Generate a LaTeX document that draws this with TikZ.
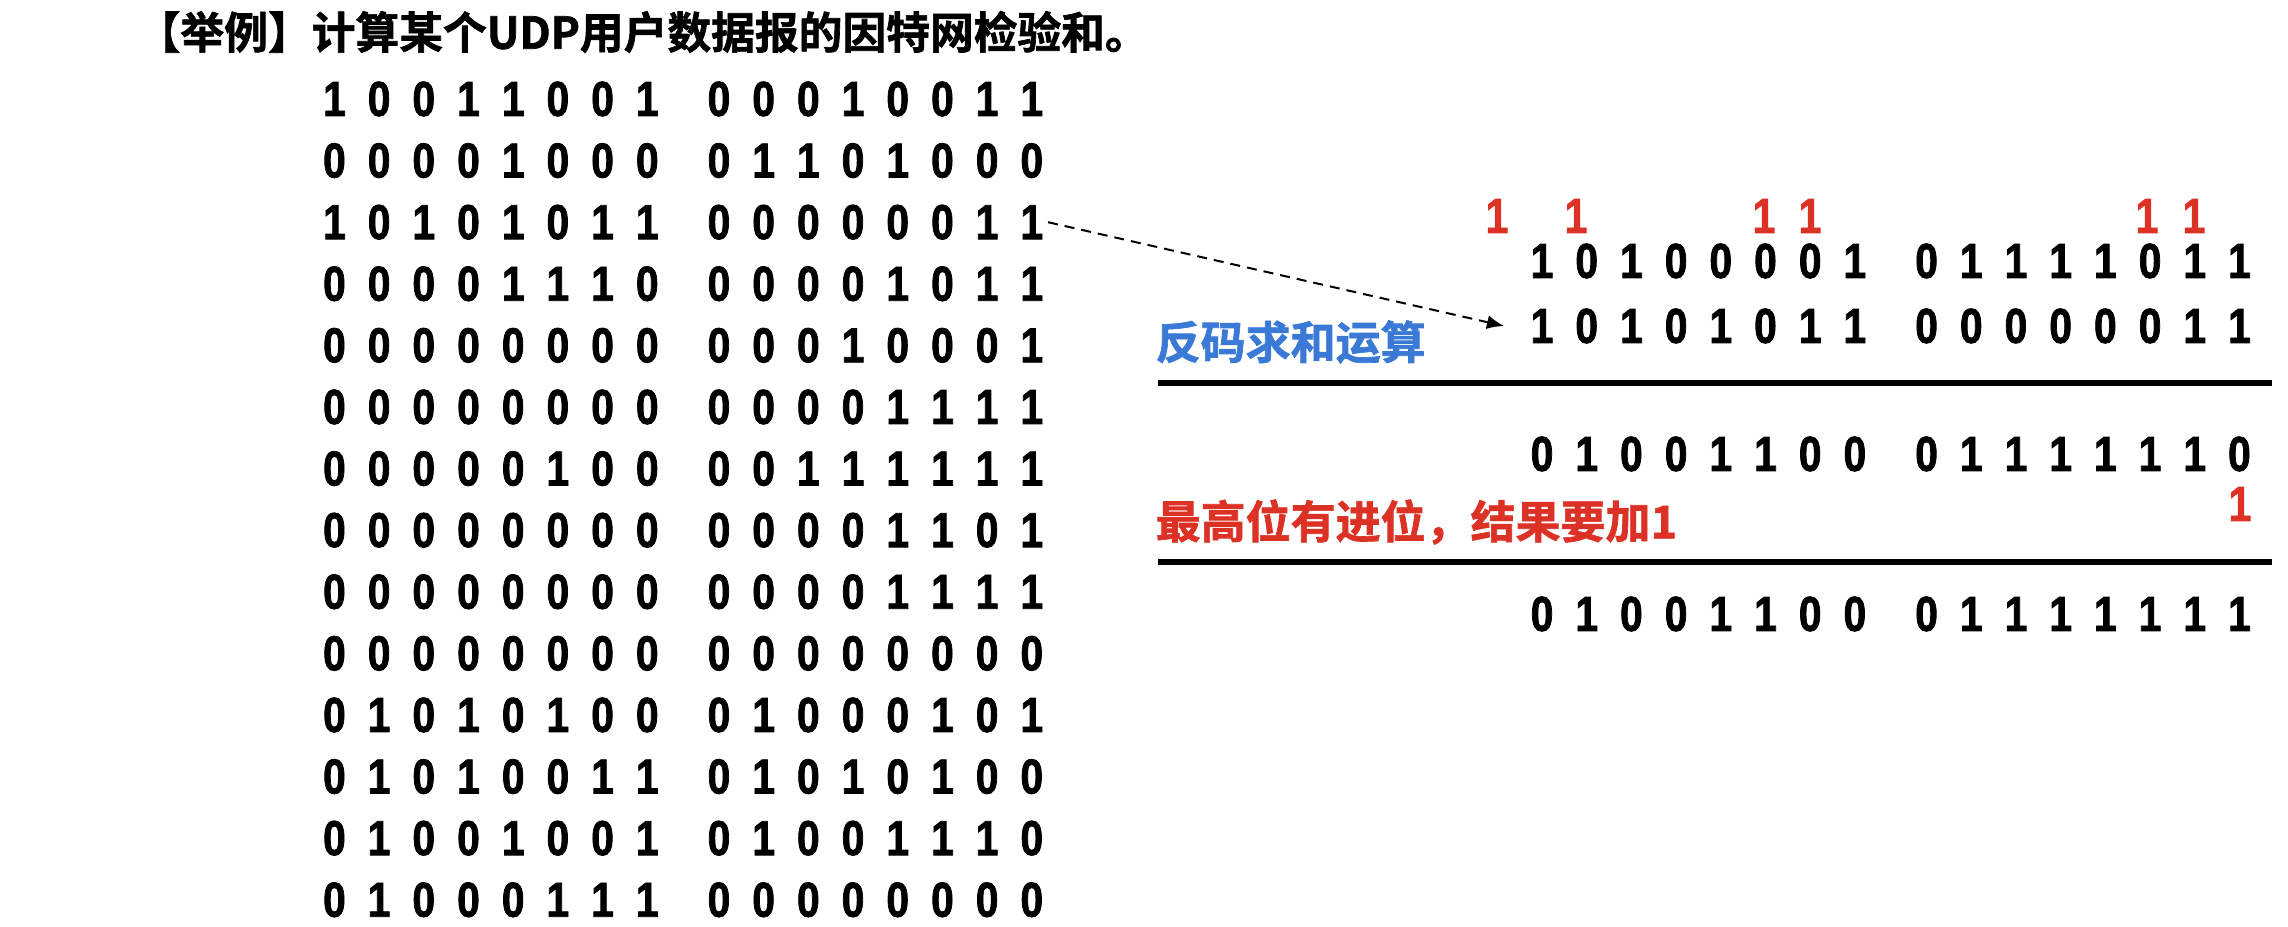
\documentclass[tikz,border=0pt]{standalone}
\usepackage{fontspec}
\usetikzlibrary{arrows.meta}
\newfontfamily\bitfont{Liberation Sans}[FakeStretch=0.83, BoldFeatures={FakeBold=1.5}]
\newfontfamily\cjkfont{Noto Sans CJK SC Bold}[FakeBold=1.5]
\definecolor{carryred}{RGB}{220,50,38}
\definecolor{notblue}{RGB}{58,122,214}
\newlength\bitpitch
\setlength\bitpitch{0.447cm}
\def\bitloop#1{\ifx#1\relax\else\makebox[\bitpitch]{#1}\expandafter\bitloop\fi}
\newcommand\bitrow[2]{\bitloop#1\relax\hspace{0.27cm}\bitloop#2\relax}
\tikzset{
  bits/.style={anchor=west, inner sep=0pt, font=\bitfont\bfseries\fontsize{14pt}{16pt}\selectfont},
  carry/.style={inner sep=0pt, text=carryred, font=\bitfont\bfseries\fontsize{14pt}{16pt}\selectfont},
  cjklabel/.style={anchor=west, inner sep=0pt, font=\cjkfont\fontsize{12.8pt}{15pt}\selectfont},
  rule/.style={line width=0.06cm}
}
\begin{document}
\begin{tikzpicture}
                \useasboundingbox (0,0) rectangle (22.88,9.26);
                
                % Marking the title
                \node [cjklabel, font=\cjkfont\fontsize{12.45pt}{15pt}\selectfont] (title) at (1.36,8.94) {【举例】计算某个UDP用户数据报的因特网检验和。};
                
                % Drawing the 16-bit words, left column
                \node [bits] (L1) at (3.114,8.270) {\bitrow{10011001}{00010011}};
                \node [bits] (L2) at (3.114,7.654) {\bitrow{00001000}{01101000}};
                \node [bits] (L3) at (3.114,7.038) {\bitrow{10101011}{00000011}};
                \node [bits] (L4) at (3.114,6.422) {\bitrow{00001110}{00001011}};
                \node [bits] (L5) at (3.114,5.806) {\bitrow{00000000}{00010001}};
                \node [bits] (L6) at (3.114,5.190) {\bitrow{00000000}{00001111}};
                \node [bits] (L7) at (3.114,4.574) {\bitrow{00000100}{00111111}};
                \node [bits] (L8) at (3.114,3.958) {\bitrow{00000000}{00001101}};
                \node [bits] (L9) at (3.114,3.342) {\bitrow{00000000}{00001111}};
                \node [bits] (L10) at (3.114,2.726) {\bitrow{00000000}{00000000}};
                \node [bits] (L11) at (3.114,2.110) {\bitrow{01010100}{01000101}};
                \node [bits] (L12) at (3.114,1.494) {\bitrow{01010011}{01010100}};
                \node [bits] (L13) at (3.114,0.878) {\bitrow{01001001}{01001110}};
                \node [bits] (L14) at (3.114,0.262) {\bitrow{01000111}{00000000}};
                
                % Marking the carries
                \node [carry] (c0) at (14.97,7.10) {1};
                \node [carry] (c1) at (15.76,7.10) {1};
                \node [carry] (c5) at (17.64,7.10) {1};
                \node [carry] (c6) at (18.10,7.10) {1};
                \node [carry] (c13) at (21.47,7.10) {1};
                \node [carry] (c14) at (21.94,7.10) {1};
                
                % Drawing the addition, right column
                \node [bits] (R1) at (15.19,6.65) {\bitrow{10100001}{01111011}};
                \node [bits] (R2) at (15.19,6.00) {\bitrow{10101011}{00000011}};
                \node [cjklabel, text=notblue] (sumlabel) at (11.55,5.84) {反码求和运算};
                \draw [rule] (11.58,5.43) -- (22.72,5.43);
                \node [bits] (R3) at (15.19,4.72) {\bitrow{01001100}{01111110}};
                \node [carry] (c15) at (22.40,4.22) {1};
                \node [cjklabel, text=carryred] (carrylabel) at (11.55,4.04) {最高位有进位，结果要加1};
                \draw [rule] (11.58,3.64) -- (22.72,3.64);
                \node [bits] (R4) at (15.19,3.12) {\bitrow{01001100}{01111111}};
                
                % Drawing the dashed arrow from the third word
                \draw [line width=0.02cm, dash pattern=on 0.1cm off 0.07cm, -{Latex[length=0.17cm,width=0.14cm]}]
                  ([xshift=-0.07cm]L3.east) -- ([xshift=-0.15cm]R2.west);
\end{tikzpicture}
\end{document}
